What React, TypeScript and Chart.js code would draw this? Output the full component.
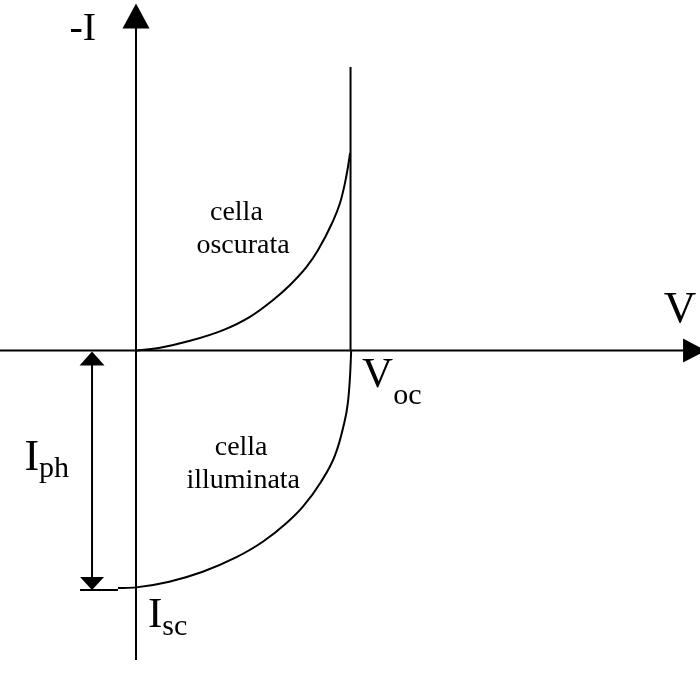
import React, { useEffect, useRef } from "react";
import { Chart, registerables } from "chart.js";
Chart.register(...registerables);

// Coordinate system: V normalised to Voc = 1, y = -I normalised to Isc = 1
const V_MIN = -0.634;
const V_MAX = 2.629;
const Y_MIN = -1.408;
const Y_MAX = 1.476;

// Dark cell curve (cella oscurata)
const darkV = [0, 0.112, 0.252, 0.406, 0.531, 0.639, 0.718, 0.796, 0.848, 0.914, 0.951, 0.974, 0.988, 0.998];
const darkI = [0, 0.012, 0.041, 0.086, 0.142, 0.213, 0.276, 0.353, 0.422, 0.537, 0.621, 0.705, 0.773, 0.832];

// Illuminated cell curve (cella illuminata)
const lightV = [-0.084, 0, 0.155, 0.311, 0.466, 0.591, 0.699, 0.777, 0.862, 0.928, 0.965, 0.988, 0.998, 1.003];
const lightI = [-1, -0.997, -0.973, -0.931, -0.871, -0.805, -0.728, -0.658, -0.553, -0.44, -0.326, -0.217, -0.103, 0];

// Axes and guide lines
const hAxisV = [-0.634, 2.55];
const vAxisI = [-1.303, 1.36];
const vocLineI = [0, 1.194];
const VOC = 1;
const IPH_V = -0.205;
const IPH = -1.008;
const iphTickV = [-0.261, -0.084];

// Labels
const labelMinusI = "-I";
const labelV = "V";
const labelVoc = ["V", "oc"];
const labelIph = ["I", "ph"];
const labelIsc = ["I", "sc"];
const labelDark = ["cella", "oscurata"];
const labelLight = ["cella", "illuminata"];

const SERIF = "'Liberation Serif', 'DejaVu Serif', serif";

function seg(xs: number[], ys: number[]) {
  return xs.map((x, i) => ({ x, y: ys[i] }));
}

const overlay = {
  id: "overlay",
  afterDatasetsDraw(chart: any) {
    const { ctx, scales } = chart;
    const px = (v: number) => scales.x.getPixelForValue(v);
    const py = (v: number) => scales.y.getPixelForValue(v);
    ctx.save();
    ctx.fillStyle = "#000";

    const tri = (tx: number, ty: number, dir: string, len: number, half: number) => {
      ctx.beginPath();
      ctx.moveTo(tx, ty);
      if (dir === "up") {
        ctx.lineTo(tx - half, ty + len);
        ctx.lineTo(tx + half, ty + len);
      } else if (dir === "down") {
        ctx.lineTo(tx - half, ty - len);
        ctx.lineTo(tx + half, ty - len);
      } else {
        ctx.lineTo(tx - len, ty - half);
        ctx.lineTo(tx - len, ty + half);
      }
      ctx.closePath();
      ctx.fill();
    };
    // axis arrows
    tri(px(0), py(vAxisI[1]) - 24, "up", 25, 13.5);
    tri(px(hAxisV[1]) + 23, py(0), "right", 23, 12);
    // Iph double arrow
    tri(px(IPH_V), py(0) + 1, "up", 14, 12.5);
    tri(px(IPH_V), py(IPH), "down", 13, 12);

    ctx.textBaseline = "alphabetic";
    ctx.textAlign = "left";
    const sub = (pair: string[], x: number, y: number, big: number, small: number, drop: number) => {
      ctx.font = `${big}px ${SERIF}`;
      ctx.fillText(pair[0], x, y);
      const w = ctx.measureText(pair[0]).width;
      ctx.font = `${small}px ${SERIF}`;
      ctx.fillText(pair[1], x + w, y + drop);
    };

    ctx.font = `40px ${SERIF}`;
    ctx.fillText(labelMinusI, px(-0.31), py(1.307));
    ctx.font = `45px ${SERIF}`;
    ctx.fillText(labelV, px(2.46), py(0.12));

    sub(labelVoc, px(1.054), py(-0.154), 43, 30, 17);
    sub(labelIph, px(-0.52), py(-0.503), 44, 30, 7);
    sub(labelIsc, px(0.056), py(-1.164), 43, 30, 8);

    ctx.textAlign = "center";
    ctx.font = `28px ${SERIF}`;
    ctx.fillText(labelDark[0], px(0.468), py(0.549));
    ctx.fillText(labelDark[1], px(0.499), py(0.411));
    ctx.fillText(labelLight[0], px(0.49), py(-0.44));
    ctx.fillText(labelLight[1], px(0.5), py(-0.579));
    ctx.restore();
  },
};

export default function App() {
  const ref = useRef<HTMLCanvasElement | null>(null);
  useEffect(() => {
    if (!ref.current) return;
    const line = (data: any[], extra: any = {}) => ({
      data,
      showLine: true,
      borderColor: "#000",
      borderWidth: 2,
      pointRadius: 0,
      fill: false,
      clip: false,
      ...extra,
    });
    const chart = new Chart(ref.current, {
      type: "scatter",
      data: {
        datasets: [
          line(seg(hAxisV, [0, 0])),
          line(seg([0, 0], vAxisI)),
          line(seg([VOC, VOC], vocLineI)),
          line(seg(darkV, darkI), { cubicInterpolationMode: "monotone" }),
          line(seg(lightV, lightI), { cubicInterpolationMode: "monotone" }),
          line(seg([IPH_V, IPH_V], [-0.03, IPH + 0.03])),
          line(seg(iphTickV, [IPH, IPH])),
        ],
      },
      options: {
        responsive: false,
        maintainAspectRatio: false,
        animation: false,
        devicePixelRatio: 1,
        layout: { padding: 0 },
        plugins: { legend: { display: false }, tooltip: { enabled: false } },
        scales: {
          x: { type: "linear", min: V_MIN, max: V_MAX, display: false },
          y: { type: "linear", min: Y_MIN, max: Y_MAX, display: false },
        },
      },
      plugins: [overlay],
    } as any);
    return () => chart.destroy();
  }, []);
  return (
    <div style={{ position: "absolute", left: 0, top: 0, width: 700, height: 685, background: "#fff" }}>
      <canvas ref={ref} width={700} height={685} style={{ display: "block" }} />
    </div>
  );
}
